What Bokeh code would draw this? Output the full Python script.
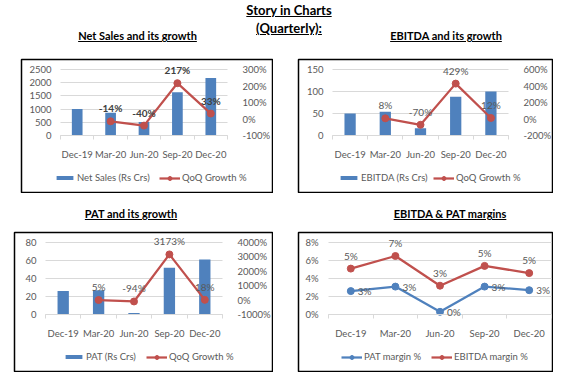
from bokeh.plotting import figure
from bokeh.models import (Range1d, LinearAxis, FixedTicker, Legend, LegendItem, LabelSet,
                          ColumnDataSource, Div, Spacer, PrintfTickFormatter)
from bokeh.layouts import column, row
from bokeh.core.properties import value
from bokeh.embed import file_html
from bokeh.resources import INLINE

# ---------------- data ----------------
quarters = ["Dec-19", "Mar-20", "Jun-20", "Sep-20", "Dec-20"]

net_sales = [1000, 860, 516, 1636, 2176]
net_sales_growth = [None, -14, -40, 217, 33]

ebitda = [50, 54, 16.5, 88, 100]
ebitda_growth = [None, 8, -70, 429, 12]

pat = [26, 27, 1.6, 52, 61]
pat_growth = [None, 5, -94, 3173, 18]

pat_margin = [2.6, 3.1, 0.3, 3.1, 2.7]
ebitda_margin = [5.1, 6.5, 3.2, 5.4, 4.6]
pat_margin_labels = ["3%", "3%", "0%", "3%", "3%"]
ebitda_margin_labels = ["5%", "7%", "3%", "5%", "5%"]

sales_ticks = [0, 500, 1000, 1500, 2000, 2500]
sales_growth_ticks = [-100, 0, 100, 200, 300]
ebitda_ticks = [0, 50, 100, 150]
ebitda_growth_ticks = [-200, 0, 200, 400, 600]
pat_ticks = [0, 20, 40, 60, 80]
pat_growth_ticks = [-1000, 0, 1000, 2000, 3000, 4000]
margin_ticks = [0, 2, 4, 6, 8]

# ---------------- style ----------------
BLUE = "#4F81BD"
RED = "#C0504D"
GRID = "#D9D9D9"
TXT = "#595959"
FONT = "Lato"
FS = "9.5px"

n = len(quarters)
xc = [i + 0.5 for i in range(n)]


def span_range(d0, d1, p0, p1, length):
    k = (d1 - d0) / (p1 - p0)
    return Range1d(d0 - p0 * k, d0 + (length - p0) * k)


def style_labels(ax, standoff):
    ax.major_label_text_font = FONT
    ax.major_label_text_font_size = FS
    ax.major_label_text_color = TXT
    ax.major_label_standoff = standoff


def base_fig(W, H, xl, xr, yt, yb, yticks, lstandoff=9):
    """W,H canvas size; plot area in canvas px: x xl..xr, y yt (top tick) .. yb (bottom tick)."""
    FW, FH = W - 2, H - 2
    lo, hi = yticks[0], yticks[-1]
    p = figure(width=W, height=H,
               x_range=span_range(0, n, xl - 1, xr - 1, FW),
               y_range=span_range(lo, hi, FH - (yb - 1), FH - (yt - 1), FH),
               output_backend="svg", toolbar_location=None,
               min_border_left=1, min_border_right=1, min_border_top=1, min_border_bottom=1,
               outline_line_color="black", outline_line_width=1.5,
               background_fill_color="white", border_fill_color="white", margin=0)
    p.xgrid.visible = False
    p.ygrid.visible = False
    ax = p.xaxis[0]
    ax.fixed_location = lo
    ax.bounds = (0, n)
    ax.ticker = FixedTicker(ticks=xc, minor_ticks=list(range(n + 1)))
    ax.major_label_overrides = {x: q for x, q in zip(xc, quarters)}
    ax.major_tick_in = 0
    ax.major_tick_out = 0
    ax.minor_tick_in = 0
    ax.minor_tick_out = 4
    ax.minor_tick_line_color = GRID
    ax.axis_line_color = GRID
    style_labels(ax, 9)
    ay = p.yaxis[0]
    ay.fixed_location = 0
    ay.ticker = FixedTicker(ticks=yticks)
    ay.axis_line_color = None
    ay.minor_tick_line_color = None
    # horizontal gridlines across the plot area
    ay.major_tick_line_color = GRID
    ay.major_tick_in = xr - xl
    ay.major_tick_out = 0
    ay.level = "underlay"
    style_labels(ay, lstandoff)
    return p


def make_legend(label, renderers, loc, gh):
    return Legend(items=[LegendItem(label=label, renderers=renderers)], location=loc,
                  orientation="horizontal", glyph_width=21, glyph_height=gh,
                  label_height=gh, label_standoff=2, padding=0, margin=0, spacing=0,
                  border_line_color=None, background_fill_alpha=0,
                  label_text_font=FONT, label_text_font_size=FS, label_text_color=TXT)


def growth_chart(W, H, xl, xr, yt, yb, values, growth, yticks, gticks, bar_label,
                 leg_bar_x, leg_line_x, lab_color, lab_style):
    p = base_fig(W, H, xl, xr, yt, yb, yticks)
    FH = H - 2
    p.extra_y_ranges = {"g": span_range(gticks[0], gticks[-1], FH - (yb - 1), FH - (yt - 1), FH)}
    ar = LinearAxis(y_range_name="g", ticker=FixedTicker(ticks=gticks),
                    formatter=PrintfTickFormatter(format="%d%%"), fixed_location=n)
    ar.axis_line_color = None
    ar.major_tick_line_color = None
    ar.minor_tick_line_color = None
    style_labels(ar, 9)
    p.add_layout(ar, "right")

    bsrc = ColumnDataSource(dict(x=xc, v=values))
    bars = p.vbar(x="x", top="v", width=0.32, source=bsrc, fill_color=BLUE, line_color=None)

    gx = [x for x, g in zip(xc, growth) if g is not None]
    gv = [g for g in growth if g is not None]
    lsrc = ColumnDataSource(dict(x=gx, g=gv, t=[f"{g}%" for g in gv]))
    ln = p.line(x="x", y="g", source=lsrc, y_range_name="g", line_color=RED, line_width=2.25)
    sc = p.scatter(x="x", y="g", source=lsrc, y_range_name="g", size=7,
                   fill_color=RED, line_color=RED)
    p.add_layout(LabelSet(x="x", y="g", text="t", source=lsrc, y_range_name="g", y_offset=13,
                          text_align="center", text_baseline="middle", text_font=value(FONT),
                          text_font_size="10px", text_color=lab_color,
                          text_font_style=lab_style))
    p.add_layout(make_legend(bar_label, [bars], (leg_bar_x, 9), 5))
    p.add_layout(make_legend("QoQ Growth %", [ln, sc], (leg_line_x, 9), 10))
    return p


fig1 = growth_chart(253, 135, 40, 207, 11, 77, net_sales, net_sales_growth,
                    sales_ticks, sales_growth_ticks, "Net Sales (Rs Crs)", 33, 138,
                    "#404040", "bold")
fig2 = growth_chart(256, 135, 35, 211, 11, 77, ebitda, ebitda_growth,
                    ebitda_ticks, ebitda_growth_ticks, "EBITDA (Rs Crs)", 40, 135,
                    TXT, "normal")
fig3 = growth_chart(260, 141, 32, 209, 11, 83, pat, pat_growth,
                    pat_ticks, pat_growth_ticks, "PAT (Rs Crs)", 49, 132,
                    TXT, "normal")

# margins chart
fig4 = base_fig(256, 141, 31, 254, 11, 83, margin_ticks, lstandoff=10)
fig4.yaxis[0].formatter = PrintfTickFormatter(format="%d%%")
msrc = ColumnDataSource(dict(x=xc, pm=pat_margin, em=ebitda_margin,
                             pt=pat_margin_labels, et=ebitda_margin_labels))
l1 = fig4.line(x="x", y="pm", source=msrc, line_color=BLUE, line_width=2.25)
s1 = fig4.scatter(x="x", y="pm", source=msrc, size=7, fill_color=BLUE, line_color=BLUE)
l2 = fig4.line(x="x", y="em", source=msrc, line_color=RED, line_width=2.25)
s2 = fig4.scatter(x="x", y="em", source=msrc, size=7, fill_color=RED, line_color=RED)
fig4.add_layout(LabelSet(x="x", y="pm", text="pt", source=msrc, x_offset=7,
                         text_align="left", text_baseline="middle", text_font=value(FONT),
                         text_font_size="10px", text_color=TXT))
fig4.add_layout(LabelSet(x="x", y="em", text="et", source=msrc, y_offset=13,
                         text_align="center", text_baseline="middle", text_font=value(FONT),
                         text_font_size="10px", text_color=TXT))
fig4.add_layout(make_legend("PAT margin %", [l1, s1], (43, 9), 10))
fig4.add_layout(make_legend("EBITDA margin %", [l2, s2], (133, 9), 10))


def title_div(cx, top, w, text, size, lh):
    return (f'<div style="position:absolute;left:{cx - w / 2}px;top:{top}px;width:{w}px;'
            f'text-align:center;font-family:Lato;font-weight:bold;font-size:{size};'
            f'line-height:{lh}px;text-decoration:underline;color:black;white-space:nowrap">'
            f'{text}</div>')


head1 = Div(text=('<div style="position:relative;width:567px;height:58px;">'
                  + title_div(289, 1, 140, "Story in Charts<br>(Quarterly):", "13px", 18)
                  + title_div(137.5, 29, 160, "Net Sales and its growth", "11px", 14)
                  + title_div(446, 29, 160, "EBITDA and its growth", "11px", 14)
                  + '</div>'), width=567, height=58, margin=0)
head2 = Div(text=('<div style="position:relative;width:567px;height:38px;">'
                  + title_div(131, 14, 160, "PAT and its growth", "11px", 14)
                  + title_div(450, 14, 160, "EBITDA &amp; PAT margins", "11px", 14)
                  + '</div>'), width=567, height=38, margin=0)

row1 = row(Spacer(width=20, height=135, margin=0), fig1, Spacer(width=24, height=135, margin=0),
           fig2, spacing=0, margin=0)
row2 = row(Spacer(width=13, height=141, margin=0), fig3, Spacer(width=24, height=141, margin=0),
           fig4, spacing=0, margin=0)
root = column(head1, row1, head2, row2, spacing=0, margin=0)

open("out.html", "w").write(file_html(root, INLINE))
